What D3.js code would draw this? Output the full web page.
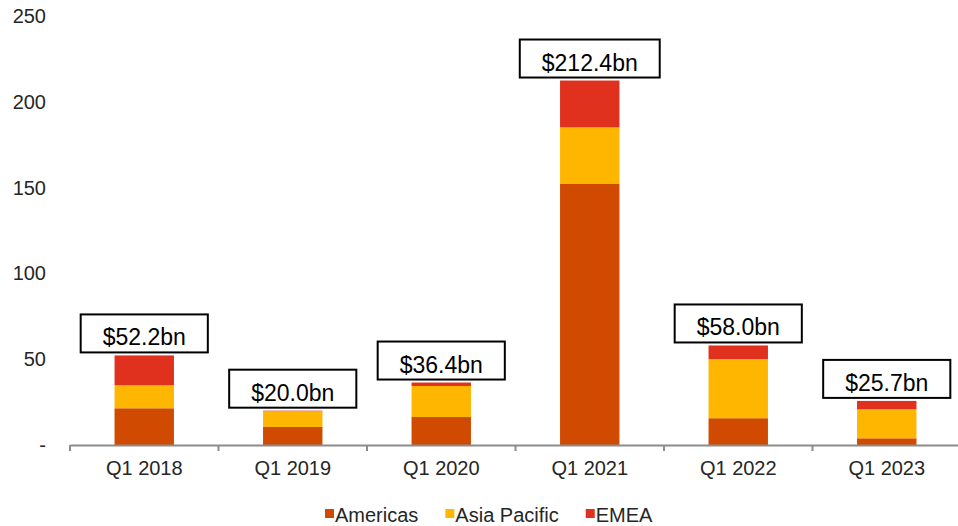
<!DOCTYPE html>
<html>
<head>
<meta charset="utf-8">
<script src="https://cdn.jsdelivr.net/npm/d3@7"></script>
<style>
  body { margin: 0; background: #fff; }
  text { font-family: "Liberation Sans", Arial, sans-serif; }
</style>
</head>
<body>
<div id="chart"></div>
<script>
// data ($bn)
var quarters = ["Q1 2018", "Q1 2019", "Q1 2020", "Q1 2021", "Q1 2022", "Q1 2023"];
var americas = [21.4, 10.5, 16.3, 152.1, 15.6, 3.9];
var asiaPacific = [13.4, 9.2, 18.1, 33.0, 34.5, 16.9];
var emea = [17.4, 0.3, 2.0, 27.3, 7.9, 4.9];
var totals = ["$52.2bn", "$20.0bn", "$36.4bn", "$212.4bn", "$58.0bn", "$25.7bn"];
var seriesNames = ["Americas", "Asia Pacific", "EMEA"];
var colors = ["#D04A02", "#FFB600", "#E0301E"];
var yTicks = [0, 50, 100, 150, 200, 250];

var width = 958, height = 526,
    margin = {top: 16, right: -3, bottom: 81, left: 70};

var data = quarters.map(function(q, i) {
  return {quarter: q, "Americas": americas[i], "Asia Pacific": asiaPacific[i], "EMEA": emea[i], label: totals[i]};
});

var svg = d3.select("#chart").append("svg")
    .attr("width", width)
    .attr("height", height);

var x = d3.scaleBand()
    .domain(quarters)
    .range([margin.left, width - margin.right])
    .paddingInner(0.6).paddingOuter(0.3);

var xAxisScale = d3.scaleBand()
    .domain(quarters)
    .range([margin.left, width - margin.right]);

var y = d3.scaleLinear()
    .domain([0, 250])
    .range([height - margin.bottom, margin.top]);

var color = d3.scaleOrdinal().domain(seriesNames).range(colors);

var layers = d3.stack().keys(seriesNames)(data);

// y axis labels only (no line)
var yAxis = svg.append("g")
    .attr("transform", "translate(46,0)")
    .call(d3.axisLeft(y).tickValues(yTicks).tickSize(0)
      .tickFormat(function(d) { return d === 0 ? "-" : d; }));
yAxis.select(".domain").remove();
yAxis.selectAll("text")
    .attr("x", 0)
    .style("font-size", "20px")
    .style("fill", "#262626");

// bars
svg.selectAll(".layer")
  .data(layers)
  .enter().append("g")
    .attr("class", "layer")
    .attr("fill", function(d) { return color(d.key); })
  .selectAll("rect")
  .data(function(d) { return d; })
  .enter().append("rect")
    .attr("x", function(d) { return x(d.data.quarter); })
    .attr("y", function(d) { return y(d[1]); })
    .attr("width", x.bandwidth())
    .attr("height", function(d) { return y(d[0]) - y(d[1]); });

// x axis
var xAxis = svg.append("g")
    .attr("transform", "translate(0," + y(0) + ")")
    .call(d3.axisBottom(xAxisScale).tickSize(0).tickSizeOuter(0));
xAxis.select(".domain").attr("stroke", "#8c8c8c").attr("stroke-width", 2);
xAxis.selectAll("text")
    .attr("dy", 0)
    .attr("y", 30)
    .style("font-size", "20px")
    .style("fill", "#262626");
// boundary tick marks between categories
svg.append("g").selectAll("line")
  .data(quarters)
  .enter().append("line")
    .attr("x1", function(d) { return xAxisScale(d); })
    .attr("x2", function(d) { return xAxisScale(d); })
    .attr("y1", y(0))
    .attr("y2", y(0) + 6)
    .attr("stroke", "#8c8c8c")
    .attr("stroke-width", 2);

// total labels in boxes
var labels = svg.append("g").selectAll("g")
  .data(data)
  .enter().append("g")
    .attr("transform", function(d) {
      var total = d["Americas"] + d["Asia Pacific"] + d["EMEA"];
      return "translate(" + (x(d.quarter) + x.bandwidth() / 2) + "," + (y(total) - 3) + ")";
    });

labels.append("text")
    .attr("text-anchor", "middle")
    .attr("y", -7)
    .style("font-size", "23px")
    .style("fill", "#000")
    .text(function(d) { return d.label; });

labels.insert("rect", "text")
    .attr("x", function() { var w = this.parentNode.querySelector("text").getComputedTextLength(); return -(w + 44) / 2; })
    .attr("y", -38)
    .attr("width", function() { return this.parentNode.querySelector("text").getComputedTextLength() + 44; })
    .attr("height", 38)
    .attr("fill", "#fff")
    .attr("stroke", "#000")
    .attr("stroke-width", 2);

// legend
var legend = svg.append("g").attr("transform", "translate(0,522)");
var lx = 325;
seriesNames.forEach(function(name, i) {
  legend.append("rect")
      .attr("x", lx)
      .attr("y", -13)
      .attr("width", 9)
      .attr("height", 9)
      .attr("fill", color(name));
  var t = legend.append("text")
      .attr("x", lx + 10)
      .style("font-size", "20px")
      .style("fill", "#262626")
      .text(name);
  lx += 10 + t.node().getComputedTextLength() + 27;
});
</script>
</body>
</html>
